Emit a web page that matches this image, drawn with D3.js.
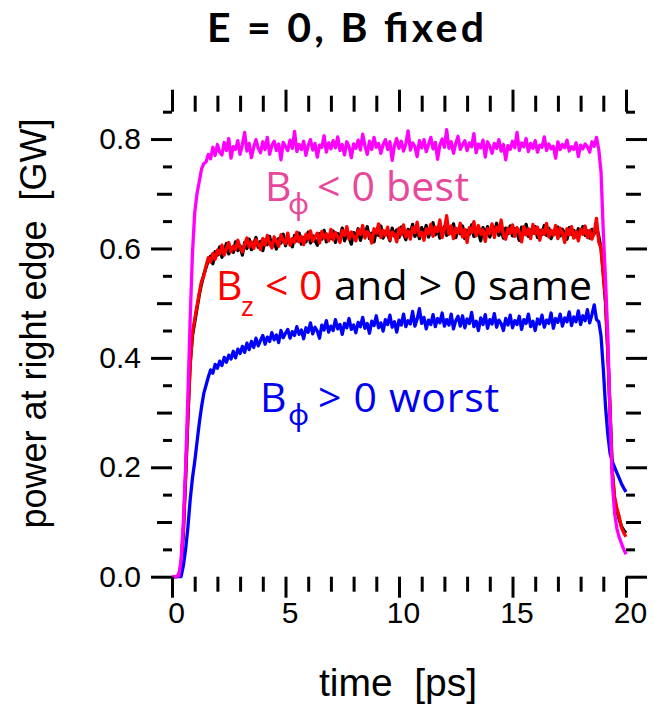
<!DOCTYPE html>
<html>
<head>
<meta charset="utf-8">
<script src="https://cdn.jsdelivr.net/npm/d3@7"></script>
<style>
  html, body { margin: 0; padding: 0; background: #fff; }
  svg { display: block; }
</style>
</head>
<body>
<svg id="chart" width="654" height="705"></svg>
<script>
// Power reaching the right edge vs. time, sampled every 0.1 ps from 0 to 20 ps
const timeStep = 0.1;
const time = d3.range(0, 201).map(i => +(i * timeStep).toFixed(1));

// B_phi < 0 (best)
const powerBphiNeg = [
  0, 0, 0, 0.002, 0.03, 0.10, 0.20, 0.33, 0.47, 0.59,
  0.665, 0.700, 0.722, 0.745, 0.755, 0.758, 0.772, 0.764, 0.785, 0.770,
  0.790, 0.776, 0.771, 0.794, 0.779, 0.801, 0.765, 0.786, 0.781, 0.797,
  0.772, 0.790, 0.812, 0.778, 0.792, 0.766, 0.785, 0.799, 0.783, 0.775,
  0.795, 0.781, 0.803, 0.772, 0.788, 0.796, 0.779, 0.791, 0.762, 0.794,
  0.786, 0.779, 0.798, 0.783, 0.814, 0.777, 0.790, 0.781, 0.796, 0.770,
  0.788, 0.799, 0.780, 0.792, 0.767, 0.789, 0.785, 0.806, 0.776, 0.793,
  0.782, 0.797, 0.784, 0.804, 0.779, 0.790, 0.771, 0.795, 0.786, 0.766,
  0.791, 0.783, 0.798, 0.780, 0.809, 0.787, 0.772, 0.796, 0.781, 0.803,
  0.785, 0.792, 0.774, 0.790, 0.799, 0.781, 0.795, 0.761, 0.788, 0.801,
  0.783, 0.796, 0.778, 0.791, 0.815, 0.780, 0.793, 0.786, 0.768, 0.797,
  0.784, 0.799, 0.777, 0.790, 0.803, 0.782, 0.794, 0.763, 0.789, 0.800,
  0.785, 0.817, 0.783, 0.795, 0.774, 0.792, 0.805, 0.781, 0.790, 0.797,
  0.779, 0.793, 0.786, 0.810, 0.775, 0.791, 0.784, 0.798, 0.767, 0.795,
  0.787, 0.774, 0.792, 0.783, 0.799, 0.778, 0.790, 0.762, 0.788, 0.781,
  0.796, 0.784, 0.812, 0.779, 0.793, 0.786, 0.801, 0.777, 0.792, 0.783,
  0.797, 0.776, 0.789, 0.785, 0.804, 0.779, 0.791, 0.782, 0.787, 0.765,
  0.795, 0.781, 0.790, 0.784, 0.798, 0.778, 0.786, 0.781, 0.793, 0.768,
  0.789, 0.782, 0.791, 0.786, 0.776, 0.795, 0.787, 0.803, 0.781, 0.740,
  0.63, 0.54, 0.44, 0.29, 0.17, 0.115, 0.088, 0.072, 0.061, 0.050,
  0.041
];

// B_z > 0
const powerBzPos = [
  0, 0, 0, 0.003, 0.02, 0.08, 0.18, 0.29, 0.39, 0.44,
  0.465, 0.49, 0.515, 0.535, 0.552, 0.565, 0.578, 0.586, 0.572, 0.594,
  0.588, 0.603, 0.584, 0.597, 0.609, 0.590, 0.601, 0.593, 0.612, 0.596,
  0.605, 0.588, 0.611, 0.600, 0.617, 0.598, 0.608, 0.620, 0.602, 0.613,
  0.596, 0.615, 0.607, 0.622, 0.603, 0.612, 0.599, 0.618, 0.610, 0.626,
  0.605, 0.619, 0.611, 0.603, 0.624, 0.614, 0.628, 0.608, 0.620, 0.612,
  0.630, 0.610, 0.623, 0.615, 0.606, 0.627, 0.617, 0.633, 0.612, 0.624,
  0.618, 0.632, 0.611, 0.627, 0.619, 0.637, 0.614, 0.626, 0.620, 0.608,
  0.629, 0.621, 0.636, 0.615, 0.630, 0.622, 0.640, 0.618, 0.628, 0.612,
  0.633, 0.624, 0.641, 0.619, 0.631, 0.626, 0.614, 0.637, 0.623, 0.634,
  0.620, 0.639, 0.627, 0.616, 0.635, 0.628, 0.644, 0.622, 0.633, 0.618,
  0.638, 0.626, 0.642, 0.621, 0.632, 0.647, 0.625, 0.636, 0.619, 0.631,
  0.640, 0.624, 0.637, 0.628, 0.645, 0.620, 0.634, 0.627, 0.641, 0.618,
  0.633, 0.626, 0.643, 0.622, 0.636, 0.629, 0.614, 0.638, 0.625, 0.640,
  0.621, 0.635, 0.628, 0.646, 0.624, 0.633, 0.619, 0.637, 0.627, 0.641,
  0.623, 0.636, 0.629, 0.615, 0.639, 0.626, 0.644, 0.622, 0.634, 0.628,
  0.640, 0.620, 0.633, 0.626, 0.642, 0.624, 0.637, 0.618, 0.631, 0.627,
  0.639, 0.623, 0.635, 0.629, 0.617, 0.638, 0.626, 0.633, 0.621, 0.636,
  0.628, 0.640, 0.624, 0.632, 0.619, 0.635, 0.627, 0.641, 0.622, 0.60,
  0.555, 0.50, 0.41, 0.30, 0.19, 0.14, 0.12, 0.105, 0.092, 0.085,
  0.08
];

// B_z < 0
const powerBzNeg = [
  0, 0, 0, 0.003, 0.022, 0.085, 0.185, 0.295, 0.385, 0.445,
  0.47, 0.495, 0.518, 0.54, 0.55, 0.568, 0.583, 0.575, 0.591, 0.580,
  0.597, 0.590, 0.606, 0.588, 0.600, 0.611, 0.594, 0.604, 0.598, 0.615,
  0.601, 0.594, 0.607, 0.619, 0.603, 0.612, 0.600, 0.616, 0.608, 0.598,
  0.618, 0.606, 0.624, 0.610, 0.601, 0.621, 0.613, 0.604, 0.625, 0.615,
  0.609, 0.628, 0.606, 0.618, 0.611, 0.630, 0.612, 0.622, 0.607, 0.626,
  0.617, 0.632, 0.613, 0.621, 0.628, 0.610, 0.631, 0.619, 0.627, 0.614,
  0.635, 0.616, 0.629, 0.621, 0.611, 0.633, 0.624, 0.640, 0.617, 0.630,
  0.622, 0.614, 0.634, 0.626, 0.642, 0.619, 0.631, 0.625, 0.610, 0.636,
  0.628, 0.645, 0.620, 0.633, 0.624, 0.639, 0.616, 0.630, 0.626, 0.612,
  0.637, 0.625, 0.643, 0.621, 0.632, 0.617, 0.638, 0.629, 0.648, 0.623,
  0.630, 0.615, 0.636, 0.627, 0.644, 0.622, 0.639, 0.631, 0.652, 0.620,
  0.634, 0.660, 0.626, 0.641, 0.618, 0.637, 0.628, 0.646, 0.621, 0.635,
  0.611, 0.638, 0.629, 0.649, 0.623, 0.642, 0.626, 0.634, 0.613, 0.636,
  0.627, 0.645, 0.620, 0.639, 0.631, 0.652, 0.624, 0.617, 0.637, 0.628,
  0.643, 0.622, 0.638, 0.630, 0.612, 0.640, 0.625, 0.636, 0.618, 0.644,
  0.627, 0.639, 0.615, 0.634, 0.626, 0.646, 0.621, 0.633, 0.624, 0.642,
  0.618, 0.637, 0.628, 0.611, 0.636, 0.625, 0.640, 0.619, 0.631, 0.614,
  0.635, 0.626, 0.641, 0.620, 0.633, 0.617, 0.629, 0.655, 0.612, 0.60,
  0.55, 0.505, 0.41, 0.30, 0.19, 0.145, 0.125, 0.11, 0.09, 0.08,
  0.073
];

// B_phi > 0 (worst)
const powerBphiPos = [
  0, 0, 0, 0, 0, 0.02, 0.05, 0.09, 0.14, 0.18,
  0.21, 0.245, 0.28, 0.31, 0.335, 0.35, 0.365, 0.378, 0.372, 0.388,
  0.381, 0.394, 0.386, 0.401, 0.392, 0.405, 0.398, 0.412, 0.400, 0.416,
  0.408, 0.421, 0.410, 0.427, 0.415, 0.430, 0.419, 0.436, 0.422, 0.432,
  0.441, 0.425, 0.438, 0.430, 0.446, 0.433, 0.442, 0.428, 0.450, 0.437,
  0.445, 0.452, 0.436, 0.448, 0.441, 0.457, 0.443, 0.451, 0.435, 0.455,
  0.447, 0.464, 0.444, 0.456, 0.449, 0.436, 0.460, 0.451, 0.468, 0.447,
  0.458, 0.450, 0.470, 0.453, 0.461, 0.443, 0.463, 0.455, 0.472, 0.452,
  0.460, 0.446, 0.465, 0.457, 0.474, 0.454, 0.463, 0.445, 0.467, 0.459,
  0.477, 0.455, 0.464, 0.449, 0.470, 0.461, 0.478, 0.456, 0.466, 0.447,
  0.469, 0.460, 0.480, 0.457, 0.468, 0.462, 0.485, 0.458, 0.471, 0.490,
  0.463, 0.474, 0.453, 0.469, 0.461, 0.479, 0.457, 0.472, 0.464, 0.482,
  0.458, 0.470, 0.460, 0.480, 0.453, 0.468, 0.476, 0.458, 0.477, 0.455,
  0.471, 0.463, 0.483, 0.457, 0.467, 0.450, 0.473, 0.461, 0.479, 0.454,
  0.470, 0.462, 0.481, 0.456, 0.469, 0.463, 0.450, 0.472, 0.460, 0.478,
  0.455, 0.468, 0.461, 0.476, 0.452, 0.470, 0.463, 0.480, 0.457, 0.467,
  0.450, 0.471, 0.462, 0.478, 0.456, 0.469, 0.463, 0.482, 0.454, 0.472,
  0.465, 0.480, 0.458, 0.473, 0.466, 0.484, 0.459, 0.475, 0.466, 0.486,
  0.461, 0.477, 0.468, 0.488, 0.464, 0.479, 0.497, 0.470, 0.466, 0.44,
  0.38, 0.31, 0.26, 0.225, 0.21, 0.2, 0.19, 0.18, 0.17, 0.162,
  0.155
];

// Tick positions
const xMajorTicks = [0, 5, 10, 15, 20];
const xMinorTicks = [1, 2, 3, 4, 6, 7, 8, 9, 11, 12, 13, 14, 16, 17, 18, 19];
const yMajorTicks = [0.0, 0.2, 0.4, 0.6, 0.8];
const yMediumTicks = [0.1, 0.3, 0.5, 0.7];
const yMinorTicks = [0.05, 0.15, 0.25, 0.35, 0.45, 0.55, 0.65, 0.75, 0.85];

const series = [
  { values: powerBzPos,   color: "#000000" },
  { values: powerBzNeg,   color: "#ff0000" },
  { values: powerBphiPos, color: "#0000ff" },
  { values: powerBphiNeg, color: "#ff00ff" }
];

const svg = d3.select("#chart");
const helv = "'Liberation Sans', Arial, Helvetica, sans-serif";
const humanist = "'Open Sans', 'Noto Sans', sans-serif";

const x = d3.scaleLinear().domain([0, 20]).range([172, 626]);
const y = d3.scaleLinear().domain([0, 0.85]).range([576.7, 111.7]);

// Curves
const line = d3.line().x((d, i) => x(time[i])).y(d => y(d));
svg.append("g").selectAll("path")
  .data(series)
  .join("path")
  .attr("d", d => line(d.values))
  .attr("fill", "none")
  .attr("stroke", d => d.color)
  .attr("stroke-width", 3.3)
  .attr("stroke-linejoin", "round");

// Axes: ticks only, no axis lines
function styleTicks(g) {
  g.select(".domain").remove();
  g.selectAll(".tick line").attr("stroke", "#000").attr("stroke-width", 3);
  g.attr("font-family", helv).attr("font-size", 30);
  g.selectAll(".tick text").attr("fill", "#000");
}

function tickSet(axisFactory, scale, values, size, translate, fmt, pad) {
  const a = axisFactory(scale).tickValues(values).tickSize(size).tickPadding(pad || 0)
    .tickFormat(fmt || (() => ""));
  return svg.append("g").attr("transform", translate).call(a).call(styleTicks);
}

const bottomT = `translate(0,${y(0)})`;
const topT = `translate(0,${y(0.85)})`;
const leftT = `translate(${x(0)},0)`;
const rightT = `translate(${x(20)},0)`;

tickSet(d3.axisBottom, x, xMinorTicks, 15, bottomT);
tickSet(d3.axisBottom, x, xMajorTicks, 21, bottomT, d3.format("d"), 4)
  .selectAll(".tick text").attr("dx", 4);
tickSet(d3.axisTop, x, xMinorTicks, 16, topT);
tickSet(d3.axisTop, x, xMajorTicks, 22, topT);

tickSet(d3.axisLeft, y, yMinorTicks, 9, leftT);
tickSet(d3.axisLeft, y, yMediumTicks, 15, leftT);
tickSet(d3.axisLeft, y, yMajorTicks, 21, leftT, d3.format(".1f"), 10);
tickSet(d3.axisRight, y, yMinorTicks, 9, rightT);
tickSet(d3.axisRight, y, yMediumTicks, 15, rightT);
tickSet(d3.axisRight, y, yMajorTicks, 21, rightT);

// Axis titles
svg.append("text")
  .attr("x", 398).attr("y", 696)
  .attr("text-anchor", "middle")
  .attr("font-family", helv).attr("font-size", 39)
  .style("white-space", "pre")
  .text("time  [ps]");

svg.append("text")
  .attr("transform", "translate(46,323.5) rotate(-90)")
  .attr("text-anchor", "middle")
  .attr("font-family", helv).attr("font-size", 36)
  .style("white-space", "pre")
  .text("power at right edge  [GW]");

// Title
svg.append("text")
  .attr("x", 207).attr("y", 42)
  .attr("font-family", "Lato, 'Open Sans', sans-serif").attr("font-size", 41).attr("font-weight", 700)
  .attr("textLength", 277).attr("lengthAdjust", "spacing")
  .style("white-space", "pre")
  .text("E = 0, B fixed");

// Annotations
function note(txt, xPos, yPos, color, size, len) {
  const t = svg.append("text")
    .attr("x", xPos).attr("y", yPos)
    .attr("font-family", humanist).attr("font-size", size)
    .attr("fill", color)
    .style("white-space", "pre")
    .text(txt);
  if (len) t.attr("textLength", len).attr("lengthAdjust", "spacing");
  return t;
}
const pink = "#e8489b";
note("B", 265, 200.5, pink, 41);
note("\u03d5", 288, 214, pink, 29);
note("< 0 best", 317, 200.5, pink, 41, 152);

note("B", 216, 300, "#ff0000", 41);
note("z", 241, 316, "#ff0000", 27);
note("< 0", 265, 300, "#ff0000", 41);
note("and > 0 same", 334, 300, "#000000", 41, 258);

note("B", 260, 411.7, "#0000f0", 41);
note("\u03d5", 288, 425, "#0000f0", 29);
note("> 0 worst", 318, 411.7, "#0000f0", 41, 181);
</script>
</body>
</html>
